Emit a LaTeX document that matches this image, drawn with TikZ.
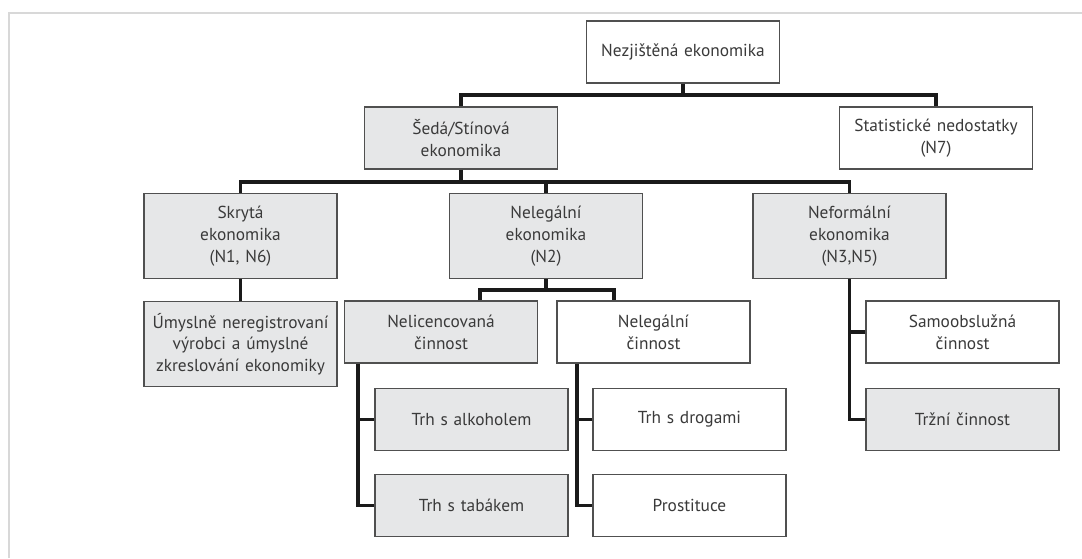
\documentclass[tikz,border=0pt]{standalone}
\usepackage{fontspec}
\setmainfont{PT Sans}
\definecolor{boxfill}{HTML}{E6E7E8}
\definecolor{boxline}{HTML}{505050}
\definecolor{txt}{HTML}{3A3A3A}
\definecolor{frameline}{HTML}{D8D8D8}
\definecolor{connline}{HTML}{1A1A1A}
\begin{document}
\begin{tikzpicture}[x=0.75pt,y=-0.75pt,
  base/.style={draw=boxline,line width=1.1pt,text=txt,align=center,inner sep=0pt,
    minimum width=144.75pt,text width=142pt,font=\fontsize{13}{16.3}\selectfont},
  lowbox/.style={base,minimum height=46.5pt},
  tallbox/.style={base,minimum height=64pt},
  grayfill/.style={fill=boxfill},
  whitefill/.style={fill=white},
  conn/.style={draw=connline,line width=2.5pt,line join=miter,line cap=butt}]
\useasboundingbox (0,0) rectangle (1082,558);
\fill[white] (0,0) rectangle (1082,558);
\draw[frameline,line width=1.2pt] (9,558) -- (9,13) -- (1082,13);

% nodes
\node[lowbox,whitefill] (top) at (683,52) {Nezjištěná ekonomika};
\node[lowbox,grayfill] (seda) at (461,138) {Šedá/Stínová\\ekonomika};
\node[lowbox,whitefill] (stat) at (936,138) {Statistické nedostatky\\(N7)};
\node[tallbox,grayfill] (skryta) at (240.5,236) {Skrytá\\ekonomika\\(N1, N6)};
\node[tallbox,grayfill] (nelegeko) at (546,236) {Nelegální\\ekonomika\\(N2)};
\node[tallbox,grayfill] (neform) at (849.5,236) {Neformální\\ekonomika\\(N3,N5)};
\node[tallbox,grayfill] (umysl) at (240.5,344) {Úmyslně neregistrovaní\\výrobci a úmyslné\\zkreslování ekonomiky};
\node[lowbox,grayfill] (nelic) at (441,332) {Nelicencovaná\\činnost};
\node[lowbox,whitefill] (nelegcin) at (653.5,332) {Nelegální\\činnost};
\node[lowbox,whitefill] (samo) at (962.5,332) {Samoobslužná\\činnost};
\node[lowbox,grayfill] (alk) at (471.5,419.5) {Trh s alkoholem};
\node[lowbox,whitefill] (drog) at (689.5,419.5) {Trh s drogami};
\node[lowbox,grayfill] (tab) at (471.5,505.5) {Trh s tabákem};
\node[lowbox,whitefill] (prost) at (689.5,505.5) {Prostituce};
\node[lowbox,grayfill] (trzni) at (962.5,419.5) {Tržní činnost};

% junction coordinates
\coordinate (b1) at (683,95);
\coordinate (b2) at (546,182);
\coordinate (b3) at (546,290);
\coordinate (x480) at (480,0);
\coordinate (x614) at (614,0);
\coordinate (x358) at (358,0);
\coordinate (x577) at (577,0);

% connectors
\draw[conn] (top.south) -- (b1);
\draw[conn] (seda.north) |- (b1) -| (stat.north);
\draw[conn] (seda.south) -- (seda.south |- b2);
\draw[conn] (skryta.north) |- (b2) -| (neform.north);
\draw[conn] (nelegeko.north) -- (b2);
\draw[conn] (skryta.south) -- (umysl.north);
\draw[conn] (nelegeko.south) -- (b3);
\draw[conn] (nelic.north -| x480) |- (b3) -| (nelegcin.north -| x614);
\draw[conn] (nelic.south -| x358) |- (tab.west);
\draw[conn] (alk.west) -- (alk.west -| x358);
\draw[conn] (nelegcin.south -| x577) |- (prost.west);
\draw[conn] (drog.west) -- (drog.west -| x577);
\draw[conn] (neform.south) |- (trzni.west);
\draw[conn] (samo.west) -- (samo.west -| neform.south);
\end{tikzpicture}
\end{document}
